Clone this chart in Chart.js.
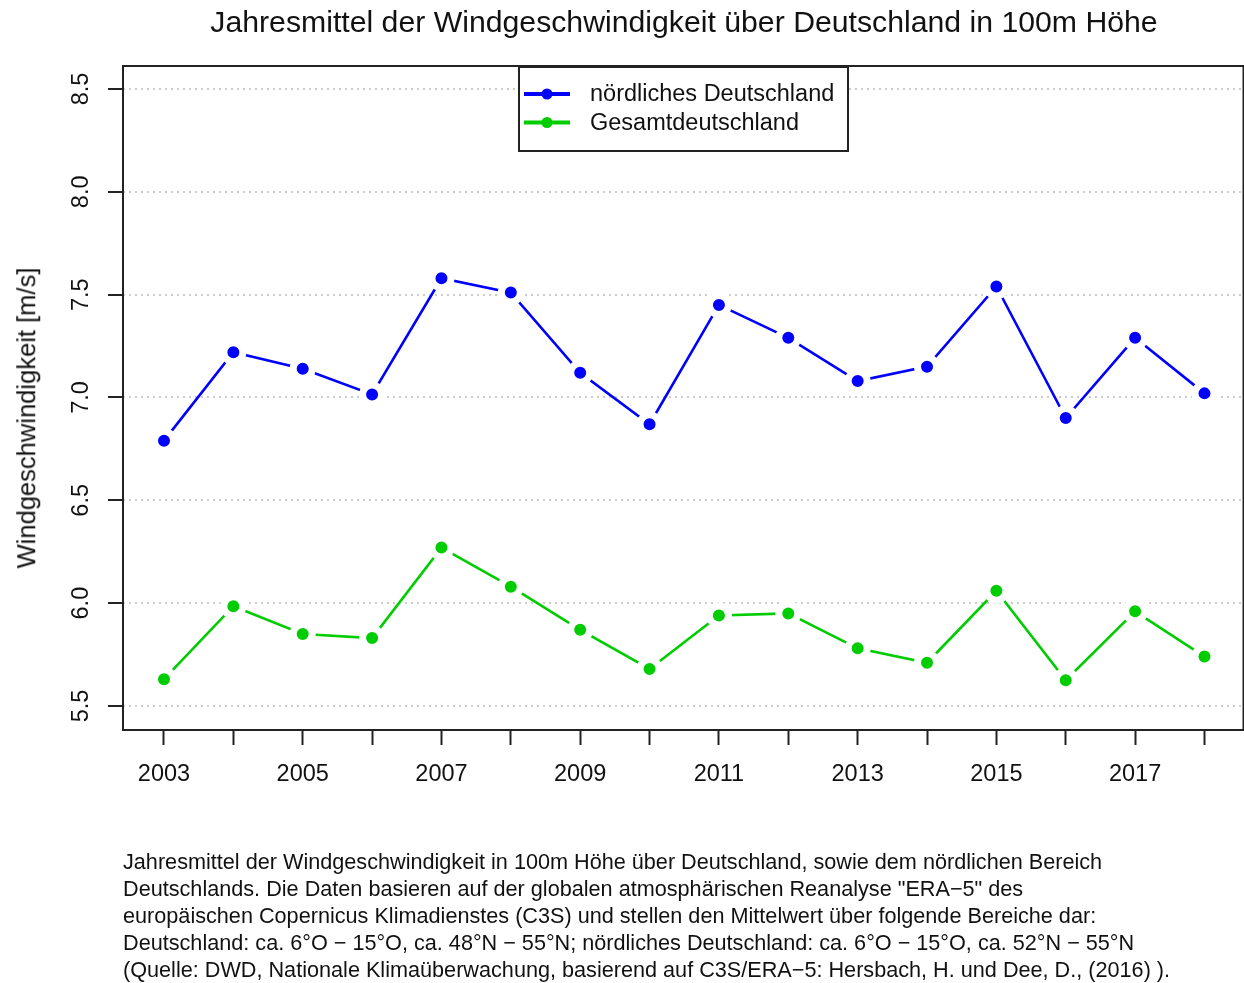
<!DOCTYPE html>
<html>
<head>
<meta charset="utf-8">
<script src="https://cdn.jsdelivr.net/npm/chart.js@4/dist/chart.umd.min.js"></script>
<style>
html,body{margin:0;padding:0;background:#fff;width:1244px;height:983px;overflow:hidden;font-family:"Liberation Sans",Arial,sans-serif;color:#111}
#wrap{position:relative;width:1244px;height:983px;overflow:hidden}
canvas{position:absolute;left:0;top:0}
.t{position:absolute;white-space:nowrap;line-height:1}
#title{left:684px;top:22px;transform:translate(-50%,-50%)}
#ylab{left:27px;top:418px;transform:translate(-50%,-50%) rotate(-90deg)}
#cap{position:absolute;left:123px;top:848px;line-height:27px;white-space:nowrap}
</style>
</head>
<body>
<div id="wrap">
<canvas id="c" width="1260" height="983"></canvas>
<div id="title" class="t">Jahresmittel der Windgeschwindigkeit über Deutschland in 100m Höhe</div>
<div id="ylab" class="t">Windgeschwindigkeit [m/s]</div>
<div id="cap">
<div id="cap1">Jahresmittel der Windgeschwindigkeit in 100m Höhe über Deutschland, sowie dem nördlichen Bereich</div>
<div>Deutschlands. Die Daten basieren auf der globalen atmosphärischen Reanalyse "ERA−5" des</div>
<div>europäischen Copernicus Klimadienstes (C3S) und stellen den Mittelwert über folgende Bereiche dar:</div>
<div>Deutschland: ca. 6°O − 15°O, ca. 48°N − 55°N; nördliches Deutschland: ca. 6°O − 15°O, ca. 52°N − 55°N</div>
<div>(Quelle: DWD, Nationale Klimaüberwachung, basierend auf C3S/ERA−5: Hersbach, H. und Dee, D., (2016) ).</div>
</div>
</div>
<script>
// ---- data ----
const years = [2003,2004,2005,2006,2007,2008,2009,2010,2011,2012,2013,2014,2015,2016,2017,2018];
const nordDeutschland = [6.79,7.22,7.14,7.015,7.58,7.51,7.12,6.87,7.45,7.29,7.08,7.15,7.54,6.90,7.29,7.02];
const gesamtDeutschland = [5.63,5.985,5.85,5.83,6.27,6.08,5.87,5.68,5.94,5.95,5.78,5.71,6.06,5.625,5.96,5.74];
const xTickValues = years;
const xTickLabelYears = [2003,2005,2007,2009,2011,2013,2015,2017];
const yTickValues = [5.5,6.0,6.5,7.0,7.5,8.0,8.5];
const seriesNames = ['nördliches Deutschland','Gesamtdeutschland'];
const seriesColors = ['#0000FF','#00CD00'];

// ---- text fitting ----
function fitText(el, width){
  const c=document.createElement('canvas').getContext('2d');
  c.font='100px "Liberation Sans"';
  const w=c.measureText(el.textContent).width;
  return 100*width/w;
}
document.getElementById('title').style.fontSize = fitText(document.getElementById('title'),948)+'px';
document.getElementById('ylab').style.fontSize = fitText(document.getElementById('ylab'),301)+'px';
document.getElementById('cap').style.fontSize = fitText(document.getElementById('cap1'),980)+'px';

const FONT = '"Liberation Sans", Arial, sans-serif';

const framePlugin = {
  id:'frame',
  afterDatasetsDraw(chart){
    const {ctx, chartArea:a} = chart;
    ctx.save();
    ctx.strokeStyle='#222'; ctx.lineWidth=2;
    ctx.strokeRect(a.left,a.top,a.right-a.left,a.bottom-a.top);
    // legend
    const w=329,h=84;
    const lx=Math.round((a.left+a.right)/2 - w/2), ly=a.top+1;
    ctx.fillStyle='#fff'; ctx.fillRect(lx,ly,w,h);
    ctx.strokeStyle='#222'; ctx.lineWidth=2; ctx.strokeRect(lx,ly,w,h);
    chart.data.datasets.forEach((ds,i)=>{
      const y = ly + 27 + i*28.5;
      ctx.strokeStyle=ds.borderColor; ctx.lineWidth=4;
      ctx.beginPath(); ctx.moveTo(lx+5,y); ctx.lineTo(lx+51,y); ctx.stroke();
      ctx.fillStyle=ds.borderColor;
      ctx.beginPath(); ctx.arc(lx+28,y,5.5,0,Math.PI*2); ctx.fill();
      ctx.fillStyle='#111'; ctx.font='23.5px '+FONT; ctx.textBaseline='middle'; ctx.textAlign='left';
      ctx.fillText(ds.label, lx+71, y+1);
    });
    ctx.restore();
  }
};

const mkData = vals => years.map((yr,i)=>({x:yr,y:vals[i]}));
const mkDs = (vals,i)=>({
  label: seriesNames[i],
  data: mkData(vals),
  borderColor: seriesColors[i],
  backgroundColor: seriesColors[i],
  borderWidth: 2.6,
  pointRadius: 9.5,
  pointBorderWidth: 7,
  pointBorderColor: '#fff',
  pointBackgroundColor: seriesColors[i],
  tension: 0,
  fill: false
});

new Chart(document.getElementById('c'), {
  type:'line',
  data:{ datasets:[ mkDs(nordDeutschland,0), mkDs(gesamtDeutschland,1) ] },
  options:{
    responsive:false, animation:false, devicePixelRatio:1, events:[],
    layout:{padding:{top:66,right:0,left:0,bottom:0}},
    plugins:{legend:{display:false},title:{display:false},tooltip:{enabled:false}},
    scales:{
      x:{
        type:'linear', min:2002.409, max:2018.5625,
        afterBuildTicks:s=>{ s.ticks = xTickValues.map(v=>({value:v})); },
        afterFit:s=>{ s.height = 253; s.paddingLeft = 0; s.paddingRight = 0; },
        grid:{drawOnChartArea:false, tickLength:15, tickWidth:2, tickColor:'#222', color:'#222'},
        border:{display:false},
        ticks:{
          autoSkip:false, maxRotation:0, minRotation:0, padding:15, color:'#111',
          font:{family:FONT,size:23.5},
          callback:(v)=> xTickLabelYears.includes(v) ? String(v) : ''
        }
      },
      y:{
        type:'linear', min:5.383, max:8.612,
        afterBuildTicks:s=>{ s.ticks = yTickValues.map(v=>({value:v})); },
        afterFit:s=>{ s.width = 123; s.paddingTop = 0; s.paddingBottom = 0; },
        grid:{color:'#cccccc', lineWidth:2, tickColor:'#222', tickWidth:2, tickLength:15},
        border:{display:false, dash:[2,4]},
        ticks:{
          minRotation:90, maxRotation:90, crossAlign:'center', padding:10, color:'#111',
          font:{family:FONT,size:23.5},
          callback:(v)=> v.toFixed(1)
        }
      }
    }
  },
  plugins:[framePlugin]
});
</script>
</body>
</html>
